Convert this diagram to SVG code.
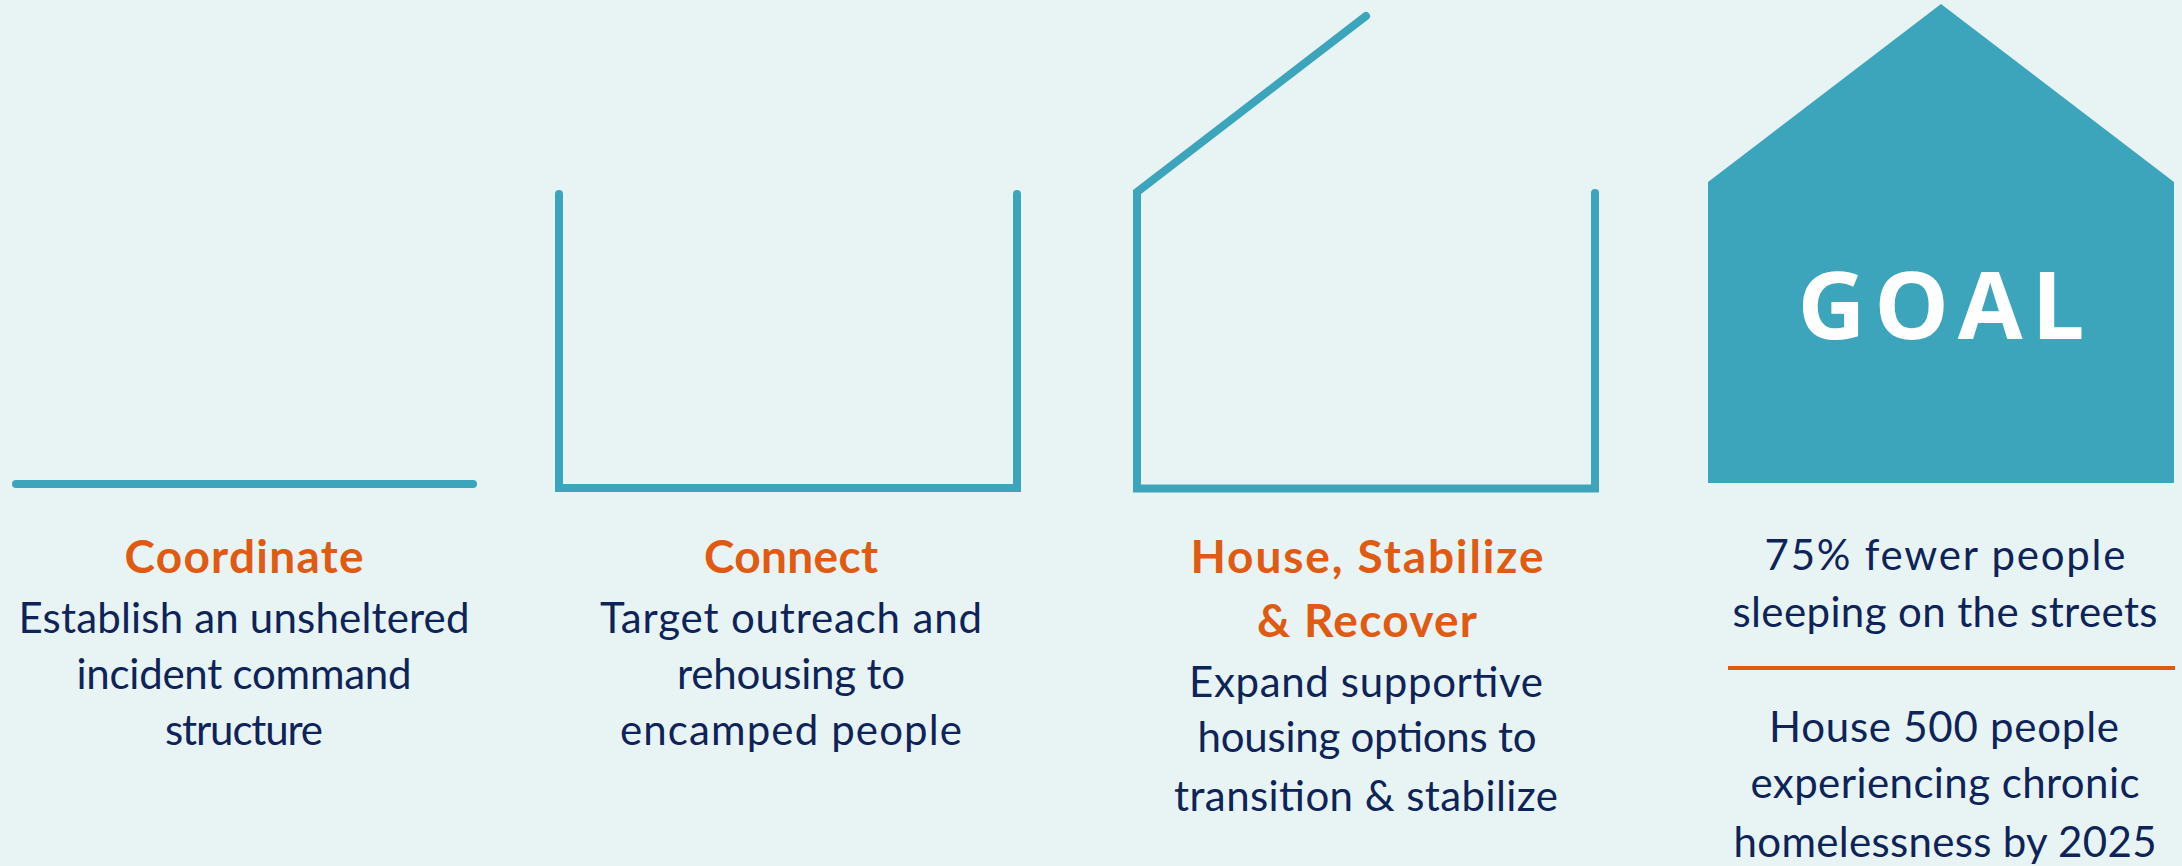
<svg xmlns="http://www.w3.org/2000/svg" width="2182" height="866" viewBox="0 0 2182 866">
  <style>
    .bg { fill: #E8F4F4; }
    .frame { fill: none; stroke: #3CA5BC; stroke-width: 8; stroke-linecap: round; stroke-linejoin: miter; }
    .goal-shape { fill: #3CA5BC; }
    .goal-label { font-family: "Open Sans", "DejaVu Sans", sans-serif; font-weight: 700; font-size: 94px; fill: #FFFFFF; text-anchor: middle; }
    .head { font-family: Lato, "Liberation Sans", sans-serif; font-weight: 700; font-size: 46px; fill: #E05A12; text-anchor: middle; }
    .body { font-family: Lato, "Liberation Sans", sans-serif; font-weight: 400; font-size: 42px; fill: #0E2459; text-anchor: middle; }
    .rule { stroke: #E05A12; stroke-width: 4; }
  </style>

  <rect class="bg" x="0" y="0" width="2182" height="866"/>

  <!-- Step 1: foundation line -->
  <g id="coordinate">
    <line class="frame" x1="16" y1="484" x2="473" y2="484"/>
    <text class="head" x="244" y="573" textLength="239">Coordinate</text>
    <text class="body" x="244" y="633" textLength="451">Establish an unsheltered</text>
    <text class="body" x="244" y="689" textLength="335">incident command</text>
    <text class="body" x="244" y="745" textLength="158">structure</text>
  </g>

  <!-- Step 2: walls -->
  <g id="connect">
    <polyline class="frame" points="559,194 559,488 1017,488 1017,194"/>
    <text class="head" x="791" y="573" textLength="174">Connect</text>
    <text class="body" x="791" y="633" textLength="382">Target outreach and</text>
    <text class="body" x="791" y="689" textLength="228">rehousing to</text>
    <text class="body" x="791" y="745" textLength="342">encamped people</text>
  </g>

  <!-- Step 3: walls with half a roof -->
  <g id="house-stabilize-recover">
    <polyline class="frame" points="1366,16 1137,192 1137,488.5 1595,488.5 1595,193"/>
    <text class="head" x="1367" y="573" textLength="353">House, Stabilize</text>
    <text class="head" x="1367" y="637" textLength="220">&amp; Recover</text>
    <text class="body" x="1366" y="697" textLength="354">Expand supportive</text>
    <text class="body" x="1367" y="752" textLength="339">housing options to</text>
    <text class="body" x="1366" y="811" textLength="384">transition &amp; stabilize</text>
  </g>

  <!-- Goal: complete house -->
  <g id="goal">
    <polygon class="goal-shape" points="1708,483 1708,182 1941,4 2174,182 2174,483"/>
    <text class="goal-label" x="1941" y="339" textLength="287">GOAL</text>
    <text class="body" x="1945" y="570" textLength="361">75% fewer people</text>
    <text class="body" x="1945" y="627" textLength="425">sleeping on the streets</text>
    <line class="rule" x1="1728" y1="668" x2="2175" y2="668"/>
    <text class="body" x="1944" y="742" textLength="350">House 500 people</text>
    <text class="body" x="1945" y="798" textLength="389">experiencing chronic</text>
    <text class="body" x="1945" y="857" textLength="423">homelessness by 2025</text>
  </g>
</svg>
